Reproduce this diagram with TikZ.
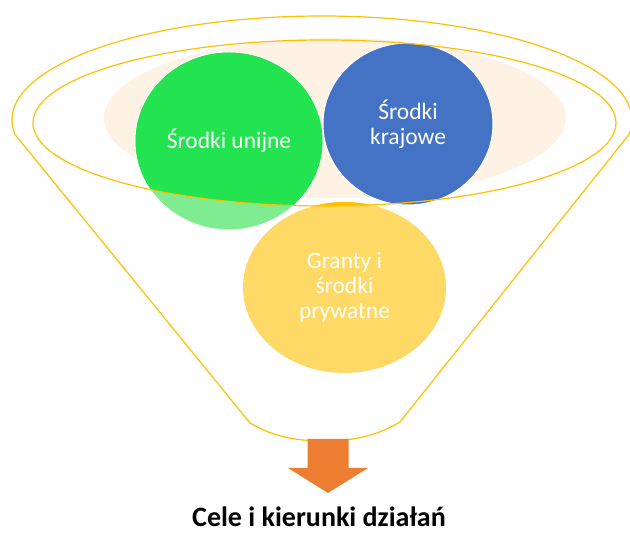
\documentclass[tikz,border=0pt]{standalone}
\usepackage{fontspec}
\setmainfont{Carlito}
\usetikzlibrary{shapes.geometric}

\definecolor{zloty}{HTML}{FFC000}
\definecolor{bez}{HTML}{FEF2E4}
\definecolor{zielony}{HTML}{24E350}
\definecolor{jasnyziel}{HTML}{7FEC91}
\definecolor{niebieski}{HTML}{4472C4}
\definecolor{zolty}{HTML}{FFD966}
\definecolor{pomarancz}{HTML}{ED7D31}

\tikzset{
    kolo/.style={ellipse, draw=white, line width=1pt, inner sep=0pt},
    napis/.style={text=white, align=center, font=\fontsize{23.5}{25}\selectfont},
    lejek/.style={draw=zloty, line width=1.2pt}
}

\begin{document}
\begin{tikzpicture}[x=1pt, y=1pt]

    \useasboundingbox (0,0) rectangle (630,534);

    % draw funnel
    \draw[lejek, fill=white] (322,414) ++(188:310 and 104)
        arc[start angle=188, end angle=-8, x radius=310, y radius=104]
        -- (400,112) .. controls (375,97) and (350,93) .. (325,93)
        .. controls (300,93) and (275,96) .. (250,111) -- cycle;
    \fill[bez] (335,416) ellipse (231 and 80);

    % draw circles
    \node[kolo, fill=jasnyziel, minimum width=188, minimum height=178] (unijne) at (229,393) {};
    \begin{scope}
        \clip (324.5,411) ellipse (291.5 and 83);
        \fill[zielony] (unijne.center) ellipse (93.5 and 88.5);
    \end{scope}
    \node[kolo, fill=niebieski, minimum width=170, minimum height=162] (krajowe) at (408,410) {};
    \node[kolo, draw=none, fill=zolty, minimum width=203, minimum height=171] (granty) at (344.5,246.5) {};
    \begin{scope}
        \clip (324.5,411) ellipse (291.5 and 83);
        \fill[zloty] (granty.center) ellipse (101.5 and 85.5);
    \end{scope}
    \draw[lejek] (324.5,411) ellipse (291.5 and 83);

    % add labels
    \node[napis] at (unijne.center) {Środki unijne};
    \node[napis] at (krajowe.center) {Środki\\krajowe};
    \node[napis] at (granty.center) {Granty i\\środki\\prywatne};

    % draw arrow
    \coordinate (wylot) at (328,95);
    \node[anchor=base, inner sep=0pt, font=\fontsize{28}{30}\selectfont\bfseries] (cele) at (319,7) {Cele i kierunki działań};
    \fill[pomarancz] (wylot) ++(-20.5,0) -- ++(41,0) -- ++(0,-29) -- ++(19.5,0)
        -- ++(-40,-25) -- ++(-40,25) -- ++(19.5,0) -- cycle;

\end{tikzpicture}
\end{document}
